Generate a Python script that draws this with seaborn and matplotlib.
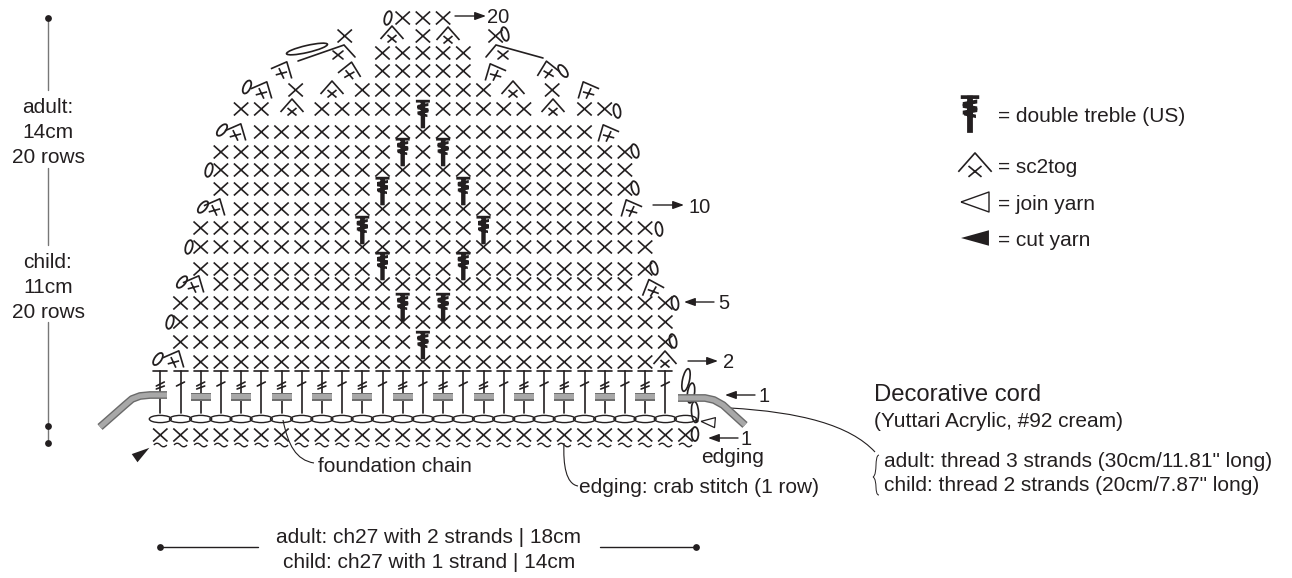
import numpy as np
import pandas as pd
import seaborn as sns
import matplotlib
matplotlib.use("Agg")
import matplotlib.pyplot as plt
from matplotlib.path import Path
from matplotlib.markers import MarkerStyle
from matplotlib.transforms import Affine2D
from matplotlib.patches import Ellipse, PathPatch

sns.set_theme(style="white")
plt.rcParams['font.family'] = ['Liberation Sans', 'DejaVu Sans']

# ---------- chart data ----------
row_numbers = [20, 19, 18, 17, 16, 15, 14, 13, 12, 11, 10, 9, 8, 7, 6, 5, 4, 3, 2]
row_y = [18, 36, 53, 71, 90, 109, 132, 152, 170, 189, 209, 228, 247, 269, 284, 303, 322, 342, 362]
row_spans = [
    [(12, 14)], [(9.13, 9.13), (13, 13), (16.6, 16.6)], [(11, 15)], [(11, 15)],
    [(6.7, 6.7), (10, 16), (19.4, 19.4)], [(4, 5), (8, 18), (21, 22)], [(5, 21)],
    [(3, 23)], [(3, 23)], [(3, 23)], [(4, 22)], [(2, 24)], [(2, 24)], [(2, 24)],
    [(3, 23)], [(1, 25)], [(1, 25)], [(1, 25)], [(2, 24)],
]
dtr_cols = [13, 12, 14, 11, 15, 10, 16, 11, 15, 12, 14, 13]
dtr_rows = [15, 13, 13, 11, 11, 9, 9, 7, 7, 5, 5, 3]
dtr_top = [100, 138, 138, 177, 177, 216, 216, 252, 252, 293, 293, 331]

sc2tog_x = [175, 195, 216, 237, 263, 283, 350, 292, 332, 553, 513, 392, 448, 665,
            494, 548, 587, 607, 630, 652]
sc2tog_y = [359, 284, 207, 132, 90, 70, 71, 108, 90, 108, 90, 35, 36, 360,
            72, 70, 90, 133, 208, 288]
sc2tog_tilt = [-25, -25, -25, -25, -25, -25, -10, 0, 0, 0, 0, 0, 0, 0,
               25, 10, 25, 25, 25, 20]

chain_x = [388, 505, 563, 617, 635, 635, 659, 654, 675, 673, 695,
           247, 222, 209, 203, 189, 182, 170, 158]
chain_y = [18, 34, 71, 111, 151, 188, 229, 268, 303, 341, 434,
           87, 130, 170, 207, 247, 282, 322, 359]
chain_tilt = [-15, 15, 35, 10, 15, 15, 8, 15, 8, 12, 0,
              -25, -40, -15, -40, -15, -40, -15, -35]

foundation_cols = list(range(27))
cord_left_x = [100, 125, 132, 140, 150, 167]
cord_left_y = [427, 405, 399, 396, 395, 395]
cord_right_x = [678, 705, 714, 723, 745]
cord_right_y = [398, 398, 400, 405, 425]

row_labels = ["20", "10", "5", "2", "1", "1"]
legend_labels = ["= double treble (US)", "= sc2tog", "= join yarn", "= cut yarn"]

# ---------- helpers ----------
X0, DX = 160.3, 20.2
def col_x(c):
    return X0 + DX * np.asarray(c, dtype=float)

fig = plt.figure(figsize=(12.92, 5.78), dpi=100)
ax = fig.add_axes([0, 0, 1, 1])
INK = "#231f20"

def stamp(xs, ys, path, rot=0, filled=False, lw=1.2, color=INK, scale=1.0, zorder=3):
    p = path.transformed(Affine2D().scale(scale).rotate_deg(rot))
    m = np.abs(p.vertices).max()
    s = (2 * m * 72 / fig.dpi) ** 2
    if filled:
        ms = MarkerStyle(p)
        sns.scatterplot(x=list(xs), y=list(ys), s=s, marker=ms, color=color, linewidth=0,
                        edgecolor="none", ax=ax, legend=False, zorder=zorder)
    else:
        ms = MarkerStyle(p, fillstyle="none")
        sns.scatterplot(x=list(xs), y=list(ys), s=s, marker=ms, color=color, linewidth=lw,
                        ax=ax, legend=False, zorder=zorder)

M, L, C3 = Path.MOVETO, Path.LINETO, Path.CURVE3
CROSS = Path([(-7.2, -6.5), (7.2, 6.5), (-7.2, 6.5), (7.2, -6.5)], [M, L, M, L])
SC2 = Path([(-11.5, -4), (0, 9), (11.5, -4), (-4.5, -7.5), (4.5, 0), (-4.5, 0), (4.5, -7.5)],
           [M, L, L, M, L, M, L])
TILDE = Path([(-6.5, 0), (-3.2, 3.6), (0, 0), (3.2, -3.6), (6.5, 0)], [M, C3, C3, C3, C3])
OVAL = Path.unit_circle().transformed(Affine2D().scale(3.4, 7))
LINK = Path.unit_circle().transformed(Affine2D().scale(11, 3.6))
PILL = Path([(-10, -4.2), (10, -4.2), (10, 4.2), (-10, 4.2), (-10, -4.2)], [M, L, L, L, Path.CLOSEPOLY])

def rect(cx, cy, w, h, slope=0.0):
    return [(cx - w / 2, cy - h / 2 - slope), (cx + w / 2, cy - h / 2 + slope),
            (cx + w / 2, cy + h / 2 + slope), (cx - w / 2, cy + h / 2 - slope),
            (cx - w / 2, cy - h / 2 - slope)]

def dtr_path():
    v, c = [], []
    parts = [rect(0, 12.8, 14, 2.8),
             rect(0, 8.5, 11, 3.0, 1.0), rect(0, 5.2, 11, 3.0, -1.0), rect(0, 2.0, 11, 3.0, 1.0),
             rect(0, -0.8, 9, 2.6, -1),
             rect(0, -0.3, 4.4, 28)]
    for r in parts:
        v += r
        c += [M, L, L, L, Path.CLOSEPOLY]
    return Path(v, c)
DTR = dtr_path()

# ---------- body stitches ----------
dtr_cells = set(zip(dtr_rows, dtr_cols))
recs = []
for n, y, spans in zip(row_numbers, row_y, row_spans):
    for a, b in spans:
        for c in np.arange(a, b + 0.5):
            if (n, c) not in dtr_cells:
                recs.append((col_x(c), y))
body = pd.DataFrame(recs, columns=["x", "y"])
stamp(body.x, body.y, CROSS)

stamp(col_x(dtr_cols), [t + 14 for t in dtr_top], DTR, filled=True, zorder=4)

for t in sorted(set(sc2tog_tilt)):
    idx = [i for i, a in enumerate(sc2tog_tilt) if a == t]
    stamp([sc2tog_x[i] for i in idx], [sc2tog_y[i] for i in idx], SC2, rot=t)
for t in sorted(set(chain_tilt)):
    idx = [i for i, a in enumerate(chain_tilt) if a == t]
    stamp([chain_x[i] for i in idx], [chain_y[i] for i in idx], OVAL, rot=t, lw=1.3)

# row 18 long strokes and long chain
ax.add_patch(Ellipse((307, 49), 42, 7, angle=-13, fill=False, ec=INK, lw=1.2))
ax.plot([298, 344, 355], [61, 45, 57], color=INK, lw=1.2, solid_joinstyle="miter")
ax.plot([333, 343], [51, 59], color=INK, lw=1.2); ax.plot([333, 343], [59, 51], color=INK, lw=1.2)
ax.plot([486, 496, 543], [57, 45, 58], color=INK, lw=1.2, solid_joinstyle="miter")
ax.plot([498, 508], [51, 59], color=INK, lw=1.2); ax.plot([498, 508], [59, 51], color=INK, lw=1.2)

# ---------- foundation ----------
fc = np.array(foundation_cols)
fx = col_x(fc)
ev = fx[fc % 2 == 0]
for x in fx[:-1]:
    ax.plot([x, x], [371, 413], color=INK, lw=1.2, zorder=2)
    ax.plot([x - 7, x + 7], [371, 371], color=INK, lw=1.2, zorder=2)
    ax.plot([x - 4, x + 4], [386, 382], color=INK, lw=1.2, zorder=2)
for x in ev[:-1]:
    ax.plot([x - 4, x + 4], [389, 386], color=INK, lw=1.2, zorder=2)
stamp(ev[1:-1], [397] * len(ev[1:-1]), PILL, filled=True, color="#6f6f6f", zorder=3)
stamp(ev[1:-1], [396.5] * len(ev[1:-1]), Path(PILL.vertices * [1, 0.6], PILL.codes), filled=True,
      color="#a8a8a8", zorder=3.1)
stamp(fx, [419] * len(fx), LINK, lw=1.0)
stamp(fx, [435] * len(fx), CROSS)
stamp(fx, [445] * len(fx), TILDE, lw=1.0)

# turning chain at right end
for xy, h, ang in [((686, 380), 23, 12), ((691, 393), 20, 8), ((695, 412), 21, -4)]:
    ax.add_patch(Ellipse(xy, 7, h, angle=ang, fill=False, ec=INK, lw=1.2, zorder=2))

# cords
for cx, cy in [(cord_left_x, cord_left_y), (cord_right_x, cord_right_y)]:
    ax.plot(cx, cy, color="#6a6a6a", lw=5.6, solid_capstyle="butt", solid_joinstyle="round", zorder=5)
    ax.plot(cx, cy, color="#a8a8a8", lw=3.6, solid_capstyle="butt", solid_joinstyle="round", zorder=5.1)

# join / cut marks
JOIN = Path([(-7, 0), (7, 5), (7, -5), (-7, 0)], [M, L, L, L])
CUT = Path([(-9, 0), (9, 5), (9, -5), (-9, 0)], [M, L, L, Path.CLOSEPOLY])
stamp([708], [422], JOIN, rot=-5, lw=0.9)
stamp([697], [421], Path.unit_circle().transformed(Affine2D().scale(1.6)), filled=True)
stamp([142], [453], CUT, rot=215, filled=True)

# ---------- arrows ----------
def arrow(x1, x2, y):
    ax.annotate("", xy=(x2, y), xytext=(x1, y),
                arrowprops=dict(arrowstyle="-|>,head_width=0.2,head_length=0.55", lw=1.0,
                                color=INK, shrinkA=0, shrinkB=0))
arrow(455, 486, 16); arrow(653, 684, 205); arrow(714, 684, 302)
arrow(688, 718, 361); arrow(755, 725, 395); arrow(738, 708, 438)

# leaders
def curve(pts, lw=0.8):
    ax.add_patch(PathPatch(Path(pts, [M] + [Path.CURVE4] * (len(pts) - 1)), fill=False, ec=INK, lw=lw))
curve([(283, 420), (288, 445), (296, 460), (314, 463)])
curve([(564, 443), (563, 465), (566, 484), (578, 486)])
curve([(730, 408), (800, 412), (850, 425), (875, 452)])
# brace
curve([(879, 455), (874, 456), (878, 474), (873, 477)], lw=0.7)
curve([(873, 477), (878, 480), (874, 495), (879, 495)], lw=0.7)

# scale bars
def bar(xs, ys, c=INK):
    ax.plot(xs, ys, color=c, lw=1.0, zorder=2)
bar([48, 48], [18, 90], "#777777"); bar([48, 48], [168, 245], "#777777"); bar([48, 48], [322, 443], "#777777")
bar([160, 258], [547, 547]); bar([600, 696], [547, 547])
sns.scatterplot(x=[48, 48, 48, 160, 696], y=[18, 426, 443, 547, 547], s=24, color=INK, linewidth=0,
                ax=ax, legend=False, zorder=3)

# ---------- legend ----------
stamp([970], [114], DTR, filled=True, scale=1.32)
stamp([975], [166], SC2, scale=1.45)
stamp([975], [202], JOIN, scale=2.0, lw=1.0)
stamp([975], [238], CUT, filled=True, scale=1.55)

# ---------- text ----------
FS = 15
def txt(x, y, s, ha="left", fs=FS):
    ax.text(x, y, s, ha=ha, va="baseline", fontsize=fs, color=INK)
for y, s in zip([113, 138, 163, 268, 293, 318],
                ["adult:", "14cm", "20 rows", "child:", "11cm", "20 rows"]):
    txt(48, y, s, "center")
for (x, y), s in zip([(487, 23), (688, 213), (718, 309), (723, 368), (759, 402), (741, 445)], row_labels):
    txt(x, y, s, fs=14.5)
txt(733, 463, "edging", "center")
txt(318, 472, "foundation chain")
txt(579, 493, "edging: crab stitch (1 row)")
txt(874, 401, "Decorative cord", fs=17.2)
txt(874, 427, "(Yuttari Acrylic, #92 cream)")
txt(884, 467, 'adult: thread 3 strands (30cm/11.81" long)')
txt(884, 491, 'child: thread 2 strands (20cm/7.87" long)')
txt(429, 543, "adult: ch27 with 2 strands | 18cm", "center")
txt(429, 568, "child: ch27 with 1 strand | 14cm", "center")
for y, s in zip([122, 173, 210, 246], legend_labels):
    txt(998, y, s)

ax.set_xlim(0, 1292)
ax.set_ylim(578, 0)
ax.axis("off")
fig.savefig("out.png", dpi=100, facecolor="white")
